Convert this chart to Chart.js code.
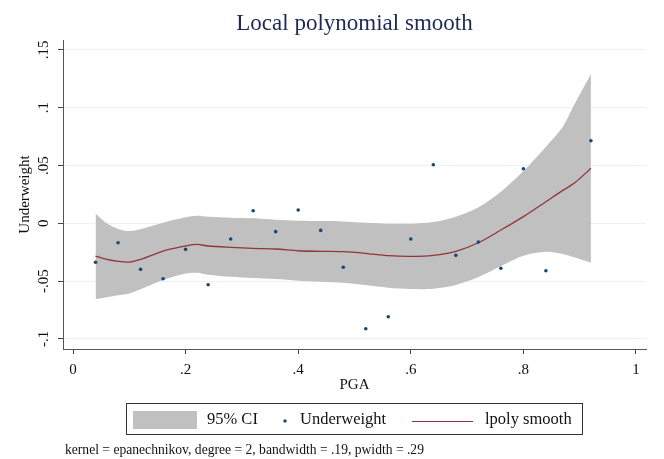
<!DOCTYPE html>
<html>
<head>
<meta charset="utf-8">
<script src="https://cdn.jsdelivr.net/npm/chart.js@4.4.0/dist/chart.umd.min.js"></script>
<style>
  html, body { margin: 0; padding: 0; background: #fff; }
</style>
</head>
<body>
<canvas id="chart" width="664" height="459"></canvas>
<script>
// Scatter points (PGA vs Underweight)
const pgaValues = [0.04, 0.08, 0.12, 0.16, 0.20, 0.24, 0.28, 0.32, 0.36, 0.40, 0.44,
  0.48, 0.52, 0.56, 0.60, 0.64, 0.68, 0.72, 0.76, 0.80, 0.84, 0.92];
const underweightValues = [-0.0337, -0.0168, -0.0398, -0.0479, -0.0225, -0.0531, -0.0136,
  0.0109, -0.0072, 0.0115, -0.0061, -0.0380, -0.0912, -0.0808, -0.0136, 0.0507, -0.0277,
  -0.0162, -0.0389, 0.0472, -0.0410, 0.0715];

// Smooth line and 95% CI band
const smoothX = [0.04, 0.06, 0.08, 0.10, 0.12, 0.16, 0.20, 0.22, 0.24, 0.28, 0.32, 0.36,
  0.40, 0.44, 0.48, 0.52, 0.56, 0.60, 0.64, 0.68, 0.72, 0.76, 0.80, 0.84, 0.87, 0.89, 0.92];
const smoothY = [-0.0283, -0.0312, -0.0329, -0.0335, -0.0312, -0.0240, -0.0196, -0.0182,
  -0.0196, -0.0208, -0.0217, -0.0222, -0.0237, -0.0242, -0.0245, -0.0260, -0.0280, -0.0286,
  -0.0277, -0.0242, -0.0168, -0.0058, 0.0058, 0.0187, 0.0285, 0.0346, 0.0476];
const ciUpper = [0.0086, 0.0000, -0.0049, -0.0067, -0.0052, 0.0005, 0.0052, 0.0066, 0.0058,
  0.0049, 0.0043, 0.0031, 0.0023, 0.0020, 0.0017, 0.0005, -0.0003, -0.0003, 0.0011, 0.0058,
  0.0138, 0.0273, 0.0452, 0.0663, 0.0836, 0.1023, 0.1292];
const ciLower = [-0.0657, -0.0640, -0.0623, -0.0606, -0.0571, -0.0490, -0.0433, -0.0427,
  -0.0444, -0.0462, -0.0473, -0.0482, -0.0496, -0.0505, -0.0514, -0.0534, -0.0557, -0.0568,
  -0.0566, -0.0534, -0.0465, -0.0369, -0.0280, -0.0246, -0.0266, -0.0294, -0.0340];

const xTicks = [0, 0.2, 0.4, 0.6, 0.8, 1];
const xTickLabels = ['0', '.2', '.4', '.6', '.8', '1'];
const yTicks = [-0.1, -0.05, 0, 0.05, 0.1, 0.15];
const yTickLabels = ['-.1', '-.05', '0', '.05', '.1', '.15'];
const legendLabels = ['95% CI', 'Underweight', 'lpoly smooth'];
const titleText = 'Local polynomial smooth';
const noteText = 'kernel = epanechnikov, degree = 2, bandwidth = .19, pwidth = .29';

const SERIF = '"Liberation Serif", "DejaVu Serif", serif';
const NAVY = '#1a476f';
const MAROON = '#90353b';
const BAND = '#c0c0c0';
const TEXT = '#111';

function toPoints(xs, ys) {
  return xs.map((x, i) => ({ x: x, y: ys[i] }));
}

// Title, rotated y labels, legend box and note drawn on top of the chart
const stataExtras = {
  id: 'stataExtras',
  afterDraw(chart) {
    const ctx = chart.ctx;
    const area = chart.chartArea;
    const yScale = chart.scales.y;
    ctx.save();

    // title
    ctx.fillStyle = '#1c2b55';
    ctx.font = '23px ' + SERIF;
    ctx.textAlign = 'center';
    ctx.textBaseline = 'middle';
    ctx.fillText(titleText, (area.left + area.right) / 2, 24);

    // y tick labels, rotated like Stata
    ctx.fillStyle = TEXT;
    ctx.font = '15px ' + SERIF;
    yTicks.forEach((v, i) => {
      const py = yScale.getPixelForValue(v);
      ctx.save();
      ctx.translate(44, py);
      ctx.rotate(-Math.PI / 2);
      ctx.fillText(yTickLabels[i], 0, 0);
      ctx.restore();
    });

    // legend box
    ctx.strokeStyle = '#333';
    ctx.lineWidth = 1;
    ctx.strokeRect(126.5, 403.5, 456, 31);
    ctx.fillStyle = BAND;
    ctx.fillRect(133, 411, 64, 18);

    ctx.fillStyle = TEXT;
    ctx.font = '16.5px ' + SERIF;
    ctx.textAlign = 'left';
    ctx.textBaseline = 'middle';
    ctx.fillText(legendLabels[0], 207, 420);

    ctx.fillStyle = NAVY;
    ctx.beginPath();
    ctx.arc(285, 421, 1.7, 0, Math.PI * 2);
    ctx.fill();
    ctx.fillStyle = TEXT;
    ctx.fillText(legendLabels[1], 300, 420);

    ctx.strokeStyle = MAROON;
    ctx.lineWidth = 1.2;
    ctx.beginPath();
    ctx.moveTo(412, 421.5);
    ctx.lineTo(473, 421.5);
    ctx.stroke();
    ctx.fillText(legendLabels[2], 485, 420);

    // note
    ctx.font = '13.6px ' + SERIF;
    ctx.fillText(noteText, 65, 450);

    ctx.restore();
  }
};

new Chart(document.getElementById('chart'), {
  type: 'line',
  data: {
    datasets: [
      {
        label: legendLabels[0],
        data: toPoints(smoothX, ciUpper),
        borderWidth: 0,
        pointRadius: 0,
        tension: 0.3,
        backgroundColor: BAND,
        fill: '+1',
        order: 3
      },
      {
        label: 'ci lower',
        data: toPoints(smoothX, ciLower),
        borderWidth: 0,
        pointRadius: 0,
        tension: 0.3,
        fill: false,
        order: 3
      },
      {
        label: legendLabels[1],
        type: 'scatter',
        data: toPoints(pgaValues, underweightValues),
        pointRadius: 1.8,
        pointBackgroundColor: NAVY,
        pointBorderWidth: 0,
        showLine: false,
        order: 1
      },
      {
        label: legendLabels[2],
        data: toPoints(smoothX, smoothY),
        borderColor: MAROON,
        borderWidth: 1.3,
        pointRadius: 0,
        tension: 0.3,
        fill: false,
        order: 2
      }
    ]
  },
  options: {
    responsive: false,
    animation: false,
    devicePixelRatio: 1,
    layout: { padding: { top: 40, right: 18, bottom: 63, left: 0 } },
    plugins: {
      legend: { display: false },
      title: { display: false },
      tooltip: { enabled: false }
    },
    scales: {
      x: {
        type: 'linear',
        min: -0.0178,
        max: 1.0178,
        afterBuildTicks: (scale) => { scale.ticks = xTicks.map(v => ({ value: v })); },
        afterFit: (scale) => { scale.height = 47; },
        grid: { drawOnChartArea: false, tickLength: 5, tickColor: '#444' },
        border: { color: '#555', width: 1 },
        ticks: {
          padding: 7,
          color: TEXT,
          font: { family: SERIF, size: 15 },
          callback: (v) => xTickLabels[xTicks.indexOf(v)]
        },
        title: {
          display: true,
          text: 'PGA',
          color: TEXT,
          font: { family: SERIF, size: 15 },
          padding: { top: 0, bottom: 2 }
        }
      },
      y: {
        type: 'linear',
        min: -0.1087,
        max: 0.1586,
        afterBuildTicks: (scale) => { scale.ticks = yTicks.map(v => ({ value: v })); },
        afterFit: (scale) => { scale.width = 63; },
        grid: { color: '#eaf2f3', lineWidth: 1, tickLength: 5, tickColor: '#444' },
        border: { color: '#555', width: 1 },
        ticks: { display: false },
        title: {
          display: true,
          text: 'Underweight',
          color: TEXT,
          font: { family: SERIF, size: 15 },
          padding: { top: 16, bottom: 0 }
        }
      }
    }
  },
  plugins: [stataExtras]
});
</script>
</body>
</html>
